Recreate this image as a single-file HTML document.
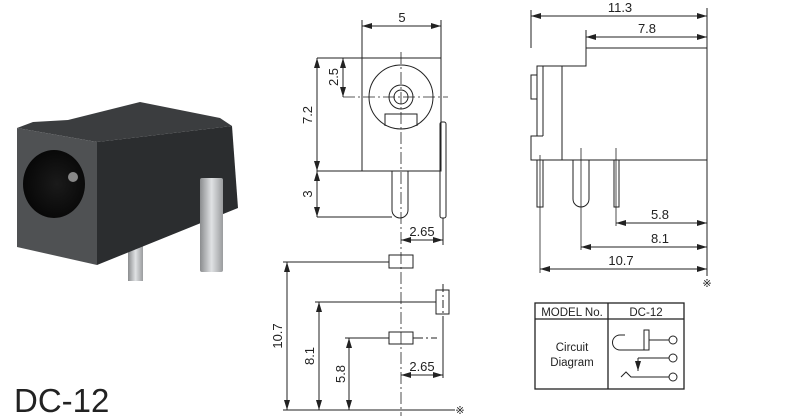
<!DOCTYPE html>
<html><head><meta charset="utf-8"><style>
html,body{margin:0;padding:0;background:#fff;width:800px;height:416px;overflow:hidden}
svg{display:block}
text{font-family:"Liberation Sans",sans-serif;fill:#222}
</style></head><body>
<svg width="800" height="416" viewBox="0 0 800 416" xmlns="http://www.w3.org/2000/svg">
<defs>
<marker id="a" viewBox="0 0 10 6" refX="10" refY="3" markerWidth="10" markerHeight="6" orient="auto-start-reverse" markerUnits="userSpaceOnUse"><path d="M0,0L10,3L0,6z" fill="#222"/></marker>
<linearGradient id="pin" x1="0" x2="1"><stop offset="0" stop-color="#8a8c8e"/><stop offset="0.5" stop-color="#e0e2e4"/><stop offset="1" stop-color="#9a9c9e"/></linearGradient>
<radialGradient id="hole" cx="0.55" cy="0.5" r="0.6"><stop offset="0" stop-color="#1a1a1a"/><stop offset="1" stop-color="#050505"/></radialGradient>
</defs>
<!-- photo -->
<g>
<rect x="128" y="245" width="15" height="36" fill="url(#pin)"/>
<polygon points="17,128 33,122 68,120 140,102 220,118 232,126 97,142" fill="#3b3d3f"/>
<polygon points="97,142 232,126 238,208 97,265" fill="#2b2d2f"/>
<polygon points="17,128 97,142 97,265 17,247" fill="#4f5153"/>
<ellipse cx="54" cy="184" rx="31" ry="34" fill="url(#hole)"/>
<circle cx="73" cy="177" r="5" fill="#888"/>
<rect x="200" y="178" width="23" height="94" rx="2" fill="url(#pin)"/>
</g>
<text x="14" y="412" font-size="33">DC-12</text>

<g stroke="#222" stroke-width="1" fill="none">
<!-- front view -->
<rect x="362" y="58" width="79" height="113"/>
<circle cx="401" cy="97" r="32"/>
<circle cx="401" cy="97" r="12"/>
<circle cx="401" cy="97" r="7"/>
<path d="M385,126 V114 H417 V126"/>
<path d="M392,171 V210 a8,8 0 0 0 16,0 V171"/>
<rect x="440" y="122" width="6" height="96" rx="2"/>
<path d="M401,52 V416" stroke-dasharray="12,3,2,3" stroke-width="0.8"/>
<path d="M343,97 H448" stroke-dasharray="12,3,2,3" stroke-width="0.8"/>
<path d="M362,20 V58 M441,20 V58"/>
<path d="M362,26 H441" marker-start="url(#a)" marker-end="url(#a)"/>
<path d="M317,58 H362 M317,171 H362 M317,217 H392"/>
<path d="M343,58 V97" marker-start="url(#a)" marker-end="url(#a)"/>
<path d="M317,58 V171" marker-start="url(#a)" marker-end="url(#a)"/>
<path d="M317,171 V217" marker-start="url(#a)" marker-end="url(#a)"/>
<path d="M443,218 V245"/>
<path d="M401,240 H443" marker-start="url(#a)" marker-end="url(#a)"/>
<!-- footprint -->
<rect x="389" y="255" width="24" height="13"/>
<rect x="436" y="290" width="13" height="24"/>
<rect x="389" y="332" width="24" height="12"/>
<path d="M283,262 H389 M315,302 H436 M345,338 H389" />
<path d="M413,338 H437" stroke-dasharray="10,3,2,3"/>
<path d="M443,284 V320" stroke-dasharray="8,3,2,3"/>
<path d="M283,410 H455"/>
<path d="M287,262 V410" marker-start="url(#a)" marker-end="url(#a)"/>
<path d="M319,302 V410" marker-start="url(#a)" marker-end="url(#a)"/>
<path d="M349,338 V410" marker-start="url(#a)" marker-end="url(#a)"/>
<path d="M443,318 V378"/>
<path d="M401,375 H443" marker-start="url(#a)" marker-end="url(#a)"/>
<!-- side view -->
<path d="M586,48 H707 V160 H531 V136 H537 V66 H586 Z"/>
<path d="M562,66 V160 M543,66 V136 M537,136 H543"/>
<rect x="531" y="75" width="6" height="24"/>
<rect x="537" y="160" width="6" height="47"/>
<path d="M573,160 V199 a8,8 0 0 0 16,0 V160"/>
<rect x="614" y="160" width="5" height="47"/>
<path d="M531,10 V48 M586,30 V48 M707,8 V276"/>
<path d="M531,16 H707" marker-start="url(#a)" marker-end="url(#a)"/>
<path d="M586,37 H707" marker-start="url(#a)" marker-end="url(#a)"/>
<path d="M616,148 V226 M581,148 V250 M540,155 V273" stroke-width="0.8"/>
<path d="M616,223 H707" marker-start="url(#a)" marker-end="url(#a)"/>
<path d="M581,247 H707" marker-start="url(#a)" marker-end="url(#a)"/>
<path d="M540,269 H707" marker-start="url(#a)" marker-end="url(#a)"/>
<!-- table -->
<rect x="535" y="303" width="149" height="86" stroke-width="1.3"/>
<path d="M535,319 H684 M608,303 V389" stroke-width="1.3"/>
<path d="M625,335 H620 a7.5,7.5 0 0 0 0,15 H644"/>
<rect x="644" y="330" width="5" height="20"/>
<path d="M649,340 H669 M638,358 H669 M621,377 L626,372 L631,377 H669"/>
<path d="M638,358 V371" marker-end="url(#a)"/>
<circle cx="673" cy="340" r="4"/><circle cx="673" cy="358" r="4"/><circle cx="673" cy="377" r="4"/>
</g>
<g font-size="13" text-anchor="middle">
<text x="402" y="22">5</text>
<text x="422" y="236">2.65</text>
<text x="422" y="371">2.65</text>
<text transform="translate(338,77) rotate(-90)">2.5</text>
<text transform="translate(312,115) rotate(-90)">7.2</text>
<text transform="translate(312,194) rotate(-90)">3</text>
<text transform="translate(282,336) rotate(-90)">10.7</text>
<text transform="translate(314,356) rotate(-90)">8.1</text>
<text transform="translate(345,374) rotate(-90)">5.8</text>
<text x="620" y="12">11.3</text>
<text x="647" y="33">7.8</text>
<text x="660" y="219">5.8</text>
<text x="660" y="243">8.1</text>
<text x="621" y="265">10.7</text>
<text x="707" y="287" font-size="11">※</text>
<text x="460" y="414" font-size="11">※</text>
</g>
<g font-size="11.5" text-anchor="middle">
<text x="572" y="316">MODEL No.</text>
<text x="646" y="316">DC-12</text>
<text x="572" y="351">Circuit</text>
<text x="572" y="366">Diagram</text>
</g>
</svg>
</body></html>
